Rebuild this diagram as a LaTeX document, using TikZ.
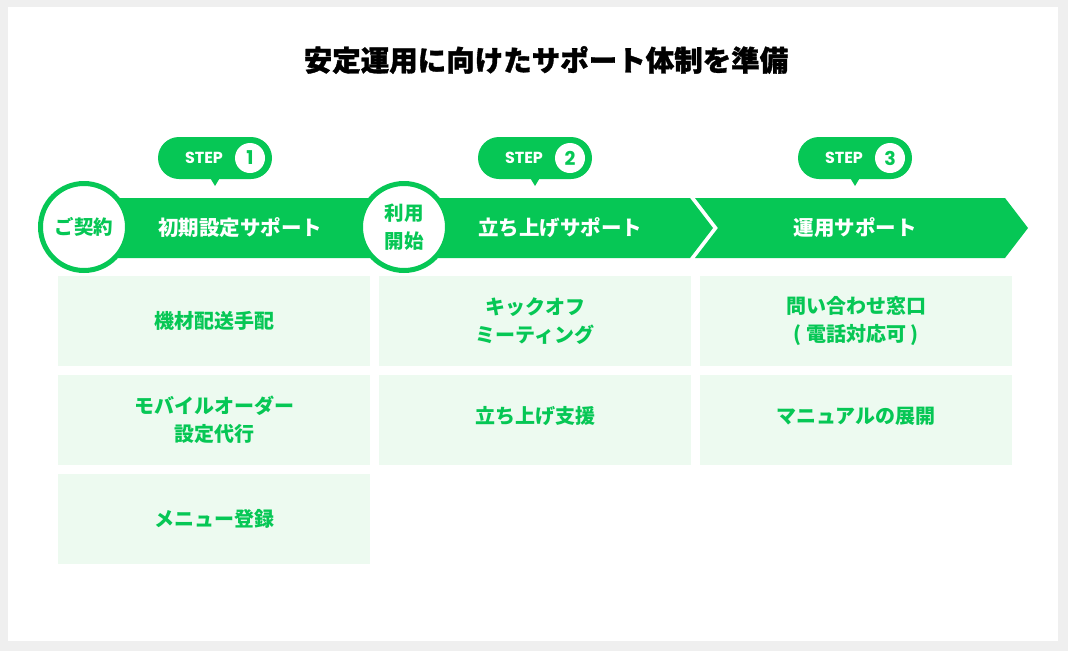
\documentclass[tikz,border=0pt]{standalone}
\usepackage{fontspec}
\newfontfamily\cjk{Noto Sans CJK JP}
\newfontfamily\titlefont{Noto Sans CJK JP}[BoldFeatures={FakeBold=1.2}]
\newfontfamily\stepfont{Poppins}
\definecolor{lgreen}{HTML}{06C755}
\definecolor{boxbg}{HTML}{EDFAF0}
\definecolor{bggray}{HTML}{EFEFEF}
\tikzset{
  item/.style={fill=boxbg, minimum width=312pt, minimum height=90pt, inner sep=0pt,
    text=lgreen, align=center, font=\cjk\bfseries\fontsize{20}{28}\selectfont},
  itemtxt/.style={inner sep=0pt, text=lgreen, align=center, font=\cjk\bfseries\fontsize{20}{28}\selectfont},
  circ/.style={circle, draw=lgreen, line width=5pt, fill=white, minimum size=87pt, inner sep=0pt,
    text=lgreen, align=center, font=\cjk\bfseries\fontsize{19.5}{30}\selectfont},
  bubble/.style={fill=lgreen, rounded corners=21pt, minimum width=114pt, minimum height=42pt, inner sep=0pt},
  numc/.style={circle, fill=white, minimum size=30pt, inner sep=0pt, text=lgreen,
    font=\stepfont\bfseries\fontsize{19}{19}\selectfont},
  steptxt/.style={text=white, inner sep=0pt, font=\stepfont\bfseries\fontsize{16}{16}\selectfont},
  bantxt/.style={text=white, inner sep=0pt, font=\cjk\bfseries\fontsize{20.5}{24}\selectfont},
  band/.style={fill=lgreen}
}
\begin{document}
\begin{tikzpicture}[x=1pt,y=-1pt]
\useasboundingbox (0,0) rectangle (1068,651);
\fill[bggray] (0,0) rectangle (1068,651);
\fill[white] (8,7) rectangle (1058,641);

\node[font=\titlefont\bfseries\fontsize{28.5}{32}\selectfont, text=black] (title) at (546,60) {安定運用に向けたサポート体制を準備};

% banners
\fill[band] (84,198) -- (690,198) -- (713,228) -- (690,258) -- (84,258) -- cycle;
\fill[band] (695,198) -- (1005,198) -- (1028,228) -- (1005,258) -- (695,258) -- (718,228) -- cycle;
\node[bantxt] (b1) at (240,228) {初期設定サポート};
\node[bantxt] (b2) at (560,228) {立ち上げサポート};
\node[bantxt] (b3) at (855,228) {運用サポート};

% circles
\node[circ] (c1) at (84,227) {ご契約};
\node[circ] (c2) at (404,227) {利用\\[-2pt]開始};

% step bubbles
\foreach \cx/\n in {215/1, 535/2, 855/3} {
  \fill[lgreen] (\cx-6,176) -- (\cx+6,176) -- (\cx,186) -- cycle;
  \node[bubble] (s\n) at (\cx,158) {};
  \node[steptxt] (st\n) at (\cx-11,158) {STEP};
  \node[numc] (n\n) at (\cx+35,158) {\n};
}

% boxes
\node[item] (i11) at (214,321) {機材配送手配};
\node[item] (i12) at (214,420) {モバイルオーダー\\設定代行};
\node[item] (i13) at (214,518.5) {メニュー登録};
\node[item] (i21) at (535,321) {キックオフ\\ミーティング};
\node[item] (i22) at (535,420) {};
\node[itemtxt] (t22) at (535,416) {立ち上げ支援};
\node[item] (i31) at (856,321) {問い合わせ窓口\\( 電話対応可 )};
\node[item] (i32) at (856,420) {};
\node[itemtxt] (t32) at (856,416) {マニュアルの展開};
\end{tikzpicture}
\end{document}
